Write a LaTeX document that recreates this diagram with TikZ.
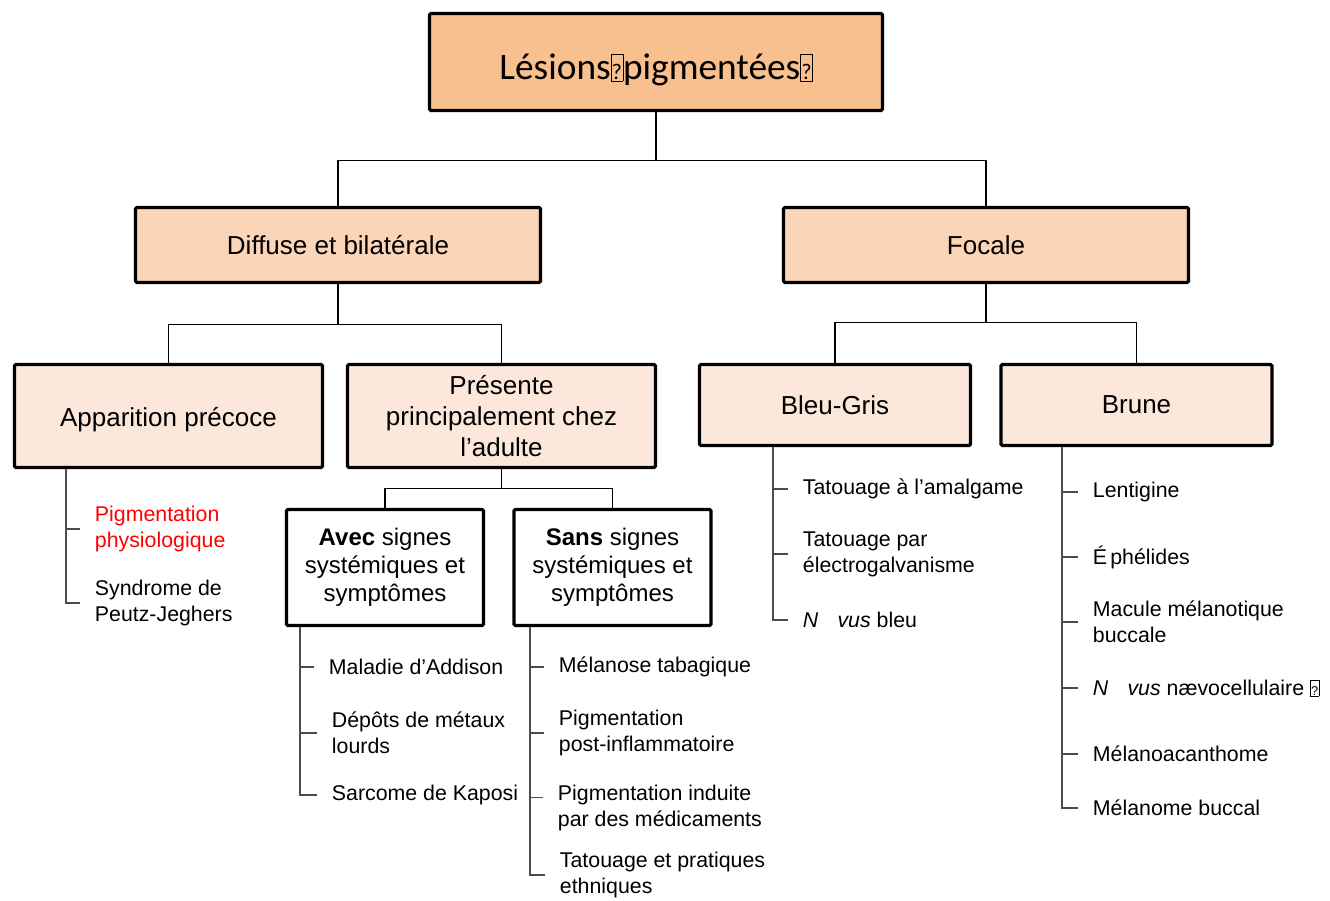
\documentclass[tikz,border=0pt]{standalone}
\usepackage{fontspec}
\usepackage{graphicx}
\setmainfont{Liberation Sans}
\newfontfamily\calibri{Carlito}
\definecolor{orangeA}{HTML}{F9C08F}
\definecolor{orangeB}{HTML}{FBD5B8}
\definecolor{orangeC}{HTML}{FCE8DA}
\definecolor{redtxt}{HTML}{FF0000}
% glyph that the source font could not show
\newcommand{\tofu}{{\setlength{\fboxsep}{0.3pt}\setlength{\fboxrule}{0.4pt}\fbox{\rule{0pt}{0.68em}\scalebox{0.6}{?}}}}
\tikzset{
  box/.style={draw=black, line width=2.4pt, rounded corners=1pt, align=center, inner sep=2pt},
  titlebox/.style={box, fill=orangeA, minimum width=339.75pt, minimum height=72.75pt, font=\calibri\fontsize{28}{34}\selectfont},
  catbox/.style={box, fill=orangeB, minimum width=303.75pt, minimum height=56.25pt, font=\fontsize{19.5}{23.25}\selectfont},
  subbox/.style={box, fill=orangeC, font=\fontsize{19.5}{23.25}\selectfont},
  signbox/.style={box, fill=white, minimum width=147.75pt, minimum height=87pt, font=\fontsize{18}{21}\selectfont},
  conn/.style={draw=black, line width=0.8pt},
  tree/.style={draw=black!70, line width=0.9pt},
  item/.style={anchor=west, align=left, inner xsep=11pt, inner ysep=0pt, font=\fontsize{16}{19.5}\selectfont}
}
\begin{document}
\begin{tikzpicture}[x=0.75pt,y=0.75pt,yscale=-1,xscale=1]
\useasboundingbox (0,0) rectangle (1330,900);

%Boxes
\node[titlebox] (lesions) at (656,62) {\raisebox{-6pt}[\height][\depth]{Lésions\tofu pigmentées\tofu}};
\node[catbox] (diffuse) at (338,245) {Diffuse et bilatérale};
\node[catbox] (focale) at (986,245) {Focale};
\node[subbox, minimum width=231pt, minimum height=77.25pt] (appar) at (168.5,416) {\raisebox{-3pt}[\height][\depth]{Apparition précoce}};
\node[subbox, minimum width=231pt, minimum height=77.25pt] (adulte) at (501.5,416) {Présente\\principalement chez\\l’adulte};
\node[subbox, minimum width=203.25pt, minimum height=60.75pt] (bleu) at (835,405) {Bleu-Gris};
\node[subbox, minimum width=203.25pt, minimum height=60.75pt] (brune) at (1136.5,405) {Brune};
\node[signbox] (avec) at (385,567.5) {\textbf{Avec} signes\\systémiques et\\symptômes};
\node[signbox] (sans) at (612.5,567.5) {\textbf{Sans} signes\\systémiques et\\symptômes};

%Connectors
\draw[conn] (lesions.south) -- ++(0,48) -| (diffuse.north);
\draw[conn] (lesions.south) -- ++(0,48) -| (focale.north);
\draw[conn] (diffuse.south) -- ++(0,40) -| (appar.north);
\draw[conn] (diffuse.south) -- ++(0,40) -| (adulte.north);
\draw[conn] (focale.south) -- ++(0,38) -| (bleu.north);
\draw[conn] (focale.south) -- ++(0,38) -| (brune.north);
\draw[conn] (adulte.south) -- ++(0,19) -| (avec.north);
\draw[conn] (adulte.south) -- ++(0,19) -| (sans.north);

%Lists
\node[item, text=redtxt] (pigphys) at (80,529) {Pigmentation\\physiologique};
\node[item] (peutz) at (80,603) {Syndrome de\\Peutz-Jeghers};

\node[item] (addison) at (314,667) {Maladie d’Addison};
\node[item] (depots) at (317,733) {Dépôts de métaux\\lourds};
\node[item] (kaposi) at (317,795) {Sarcome de Kaposi};

\node[item] (melanose) at (544,667) {Mélanose tabagique};
\node[item] (postinfl) at (544,733) {Pigmentation\\post-inflammatoire};
\node[item] (medic) at (543,808) {Pigmentation induite\\par des médicaments};
\node[item] (ethn) at (545,875) {Tatouage et pratiques\\ethniques};

\node[item] (amalgame) at (788,489) {Tatouage à l’amalgame};
\node[item] (electro) at (788,554) {Tatouage par\\électrogalvanisme};
\node[item] (nbleu) at (788,620) {\textit{N\hspace{0.9em}vus} bleu};

\node[item] (lentigine) at (1078,492) {Lentigine};
\node[item] (ephel) at (1078,557) {É\hspace{0.15em}phélides};
\node[item] (macule) at (1078,622) {Macule mélanotique\\buccale};
\node[item] (ncell) at (1078,688) {\textit{N\hspace{0.9em}vus} nævocellulaire \tofu};
\node[item] (acanth) at (1078,754) {Mélanoacanthome};
\node[item] (melanome) at (1078,808) {Mélanome buccal};

\foreach \n in {pigphys,peutz}
  \draw[tree] (appar.south -| 66,0) |- (\n.west);
\foreach \n in {addison,depots,kaposi}
  \draw[tree] (avec.south -| 300,0) |- (\n.west);
\foreach \n in {melanose,postinfl,ethn}
  \draw[tree] (sans.south -| 530,0) |- (\n.west);
\draw[tree] (sans.south -| 530,0) |- ([yshift=-8pt]medic.west);
\foreach \n in {amalgame,electro,nbleu}
  \draw[tree] (bleu.south -| 773,0) |- (\n.west);
\foreach \n in {lentigine,ephel,macule,ncell,acanth,melanome}
  \draw[tree] (brune.south -| 1062,0) |- (\n.west);
\end{tikzpicture}
\end{document}
